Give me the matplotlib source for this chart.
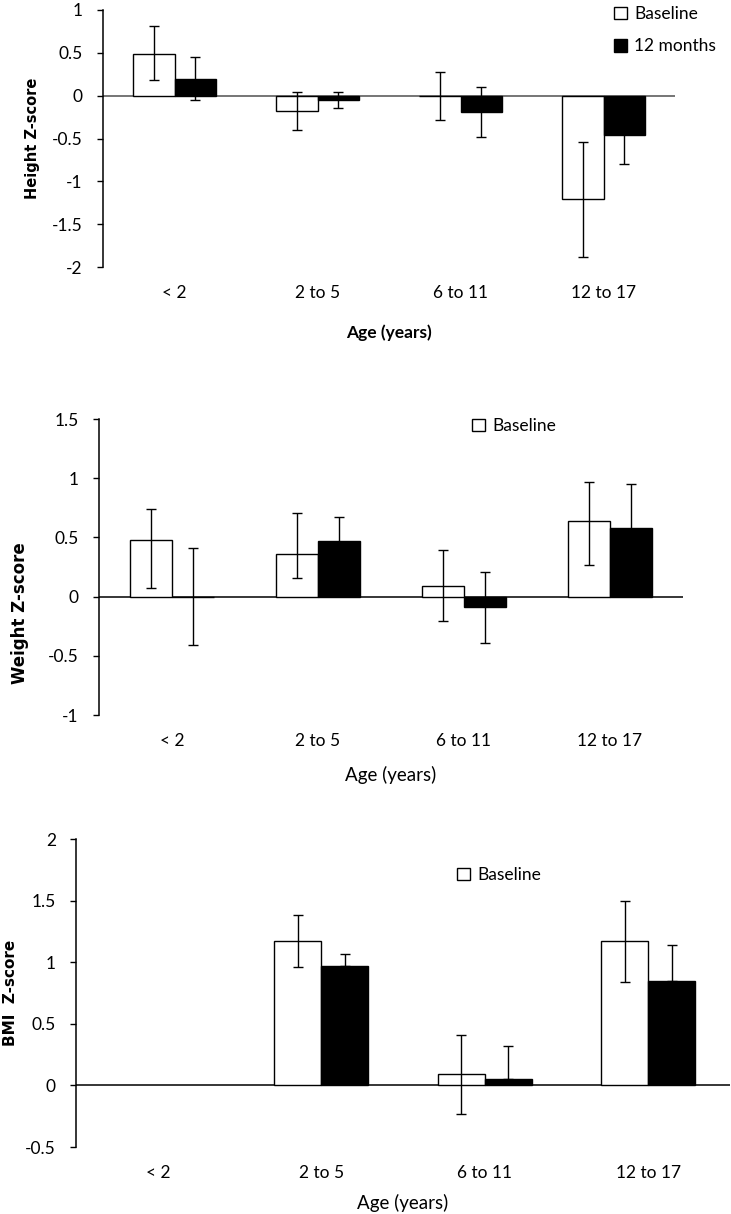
import numpy as np
import matplotlib
matplotlib.use('Agg')
from matplotlib import pyplot as plt
from matplotlib.ticker import FuncFormatter

categories = ['< 2', '2 to 5', '6 to 11', '12 to 17']

# height z-score
height_base = [0.49, -0.18, 0.0, -1.21]
height_base_lo = [0.31, 0.22, 0.28, 0.67]
height_base_hi = [0.32, 0.22, 0.28, 0.67]
height_12m = [0.20, -0.05, -0.19, -0.46]
height_12m_lo = [0.25, 0.09, 0.29, 0.34]
height_12m_hi = [0.25, 0.09, 0.29, 0.34]

# weight z-score
weight_base = [0.48, 0.36, 0.09, 0.64]
weight_base_lo = [0.41, 0.20, 0.30, 0.37]
weight_base_hi = [0.26, 0.35, 0.30, 0.33]
weight_12m = [0.0, 0.47, -0.09, 0.58]
weight_12m_lo = [0.41, 0.20, 0.30, 0.37]
weight_12m_hi = [0.41, 0.20, 0.30, 0.37]

# BMI z-score (no data for < 2)
bmi_base = [np.nan, 1.17, 0.09, 1.17]
bmi_base_lo = [0, 0.21, 0.32, 0.33]
bmi_base_hi = [0, 0.21, 0.32, 0.33]
bmi_12m = [np.nan, 0.97, 0.05, 0.85]
bmi_12m_lo = [0, 0, 0, 0]
bmi_12m_hi = [0, 0.10, 0.27, 0.29]

plt.rcParams['axes.unicode_minus'] = False
plt.rcParams['font.family'] = ['Lato', 'DejaVu Sans']

W, H = 731, 1214
fig = plt.figure(figsize=(W / 100, H / 100), dpi=100)


def px_axes(left, right, top, bottom):
    # pixel box -> figure fraction
    return fig.add_axes([left / W, 1 - bottom / H, (right - left) / W, (bottom - top) / H])


def panel(ax, base, base_lo, base_hi, m12, m12_lo, m12_hi, ylim, zcolor):
    x = np.arange(len(categories))
    w = 0.287
    ax.axhline(0, color=zcolor, lw=1.1, zorder=1)
    b1 = ax.bar(x - w / 2, base, w, color='white', edgecolor='black', lw=1.0, zorder=2, label='Baseline')
    b2 = ax.bar(x + w / 2, m12, w, color='black', edgecolor='black', lw=1.0, zorder=2, label='12 months')
    ax.errorbar(x - w / 2, base, yerr=[base_lo, base_hi], fmt='none', ecolor='black',
                elinewidth=1.0, capsize=3.6, capthick=1.0, zorder=3)
    ax.errorbar(x + w / 2, m12, yerr=[m12_lo, m12_hi], fmt='none', ecolor='black',
                elinewidth=1.0, capsize=3.6, capthick=1.0, zorder=3)
    ax.set_xlim(-0.5, 3.5)
    ax.set_ylim(*ylim)
    ax.set_yticks(np.arange(ylim[0], ylim[1] + 0.01, 0.5))
    ax.yaxis.set_major_formatter(FuncFormatter(lambda v, p: '%g' % v))
    ax.set_xticks(x)
    ax.set_xticklabels(categories)
    for s in ['top', 'right', 'bottom']:
        ax.spines[s].set_visible(False)
    ax.spines['left'].set_linewidth(1.1)
    ax.tick_params(axis='y', direction='out', length=4.5, width=1.0, pad=10, labelsize=12.5, colors='black')
    ax.tick_params(axis='x', length=0, pad=13, labelsize=12.5)
    ax.set_facecolor('none')
    return b1, b2


ax1 = px_axes(103, 675, 10, 267)
h1, h2 = panel(ax1, height_base, height_base_lo, height_base_hi,
               height_12m, height_12m_lo, height_12m_hi, (-2, 1), '#505050')
fig.legend([h1, h2], ['Baseline', '12 months'], loc='upper left',
           bbox_to_anchor=(614 / W, 1 - 6 / H), frameon=False, fontsize=12.5,
           handlelength=0.75, handleheight=0.75, handletextpad=0.4,
           labelspacing=0.95, borderpad=0, borderaxespad=0)
fig.text(33 / W, 1 - 138 / H, 'Height Z-score', rotation=90, ha='center', va='center',
         family='DejaVu Sans', fontweight='bold', fontsize=10.5)
fig.text(389 / W, 1 - 333 / H, 'Age (years)', ha='center', va='center',
         fontweight='bold', fontsize=12.5)

ax2 = px_axes(99, 683, 419, 715)
h1, h2 = panel(ax2, weight_base, weight_base_lo, weight_base_hi,
               weight_12m, weight_12m_lo, weight_12m_hi, (-1, 1.5), 'black')
fig.legend([h1], ['Baseline'], loc='upper left',
           bbox_to_anchor=(472 / W, 1 - 418 / H), frameon=False, fontsize=12.5,
           handlelength=0.75, handleheight=0.75, handletextpad=0.4,
           borderpad=0, borderaxespad=0)
fig.text(20 / W, 1 - 613 / H, 'Weight Z-score', rotation=90, ha='center', va='center',
         family='DejaVu Sans', fontweight='bold', fontsize=12)
fig.text(391 / W, 1 - 775 / H, 'Age (years)', ha='center', va='center', fontsize=13.5)

ax3 = px_axes(76, 730, 839, 1147)
h1, h2 = panel(ax3, bmi_base, bmi_base_lo, bmi_base_hi,
               bmi_12m, bmi_12m_lo, bmi_12m_hi, (-0.5, 2), 'black')
fig.legend([h1], ['Baseline'], loc='upper left',
           bbox_to_anchor=(457 / W, 1 - 867 / H), frameon=False, fontsize=12.5,
           handlelength=0.75, handleheight=0.75, handletextpad=0.4,
           borderpad=0, borderaxespad=0)
fig.text(11 / W, 1 - 993 / H, 'BMI  Z-score', rotation=90, ha='center', va='center',
         family='DejaVu Sans', fontweight='bold', fontsize=11)
fig.text(403 / W, 1 - 1203 / H, 'Age (years)', ha='center', va='center', fontsize=13.5)

fig.savefig('out.png', dpi=100)
